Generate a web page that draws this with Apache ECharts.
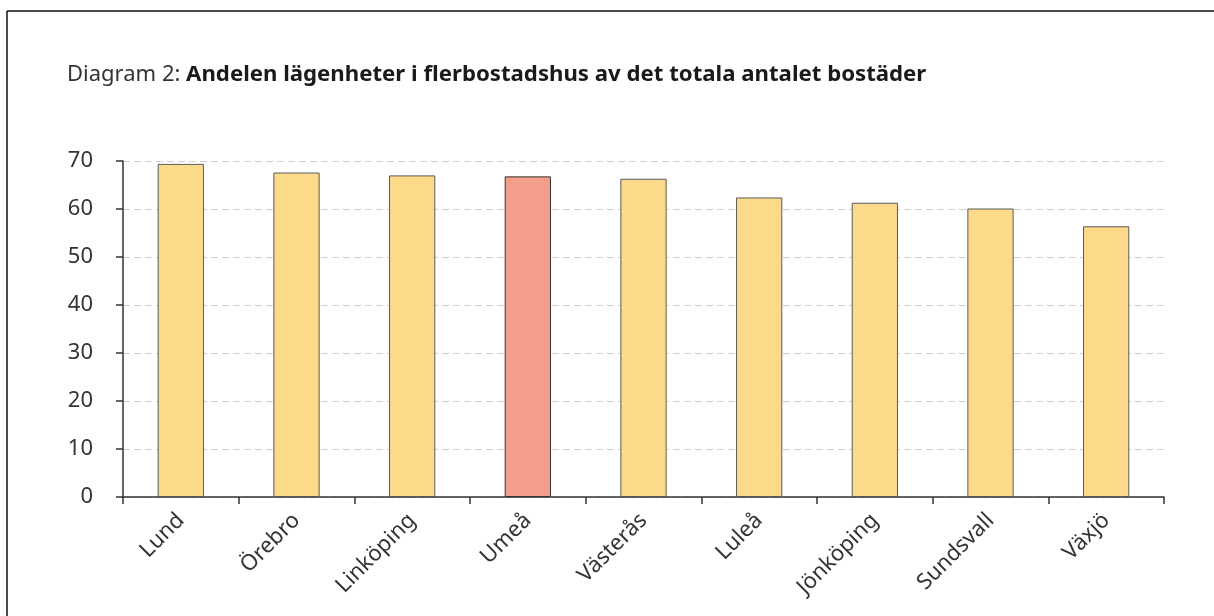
<!DOCTYPE html>
<html>
<head>
<meta charset="utf-8">
<script src="https://cdn.jsdelivr.net/npm/echarts@6/dist/echarts.min.js"></script>
<style>
  html, body { margin: 0; padding: 0; background: #fff; }
  #chart { width: 1214px; height: 616px; }
</style>
</head>
<body>
<div id="chart"></div>
<script>
// kommuner och andel lägenheter i flerbostadshus (%)
const cities = ["Lund", "Örebro", "Linköping", "Umeå", "Västerås", "Luleå", "Jönköping", "Sundsvall", "Växjö"];
const shares = [69.4, 67.6, 67.0, 66.8, 66.3, 62.4, 61.3, 60.1, 56.4];
const highlight = "Umeå";

const yTicks = [0, 10, 20, 30, 40, 50, 60, 70];

const myChart = echarts.init(document.getElementById("chart"));

const option = {
  backgroundColor: "#fff",
  animation: false,
  textStyle: { fontFamily: "Noto Sans" },
  title: {
    left: 67,
    top: 64,
    padding: 0,
    text: "{a|Diagram 2: }{b|Andelen lägenheter i flerbostadshus av det totala antalet bostäder}",
    textStyle: {
      fontSize: 22,
      rich: {
        a: { fontSize: 22, color: "#333", fontWeight: "normal", fontFamily: "Noto Sans" },
        b: { fontSize: 22.2, color: "#1a1a1a", fontWeight: "bold", fontFamily: "Noto Sans" },
      },
    },
  },
  graphic: [
    { type: "line", shape: { x1: 7, y1: 11, x2: 1214, y2: 11 }, style: { stroke: "#111", lineWidth: 1.5 } },
    { type: "line", shape: { x1: 7, y1: 11, x2: 7, y2: 616 }, style: { stroke: "#111", lineWidth: 1.5 } },
  ],
  grid: {
    left: 123,
    right: 50,
    top: 161,
    bottom: 119,
  },
  xAxis: {
    type: "category",
    data: cities,
    axisLine: { lineStyle: { color: "#333", width: 1.5 } },
    axisTick: { show: true, length: 7, lineStyle: { color: "#333", width: 1.5 } },
    axisLabel: {
      rotate: 45,
      margin: 20,
      fontSize: 22,
      color: "#333",
      fontFamily: "Noto Sans",
    },
  },
  yAxis: {
    type: "value",
    min: yTicks[0],
    max: yTicks[yTicks.length - 1],
    interval: 10,
    axisLine: { show: true, lineStyle: { color: "#333", width: 1.5 } },
    axisTick: { show: true, length: 7, lineStyle: { color: "#333", width: 1.5 } },
    axisLabel: {
      margin: 30,
      fontSize: 22,
      color: "#333",
      fontFamily: "Noto Sans",
    },
    splitLine: {
      lineStyle: { color: "#cfcfcf", type: [7, 4], width: 1 },
    },
  },
  series: [
    {
      type: "bar",
      barWidth: "40%",
      data: cities.map((c, i) => ({
        value: shares[i],
        itemStyle: {
          color: c === highlight ? "#F29E8A" : "#FDDA8A",
          borderColor: c === highlight ? "#333" : "#5a5a5a",
          borderWidth: 1,
        },
      })),
    },
  ],
};

option && myChart.setOption(option);
</script>
</body>
</html>
